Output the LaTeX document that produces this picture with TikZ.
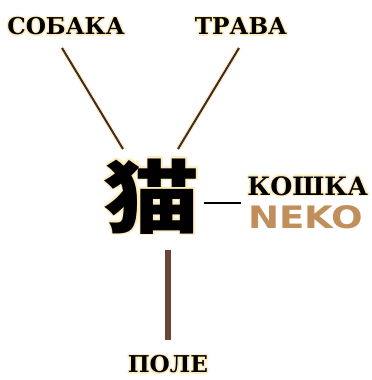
\documentclass[tikz,border=0pt]{standalone}
\usepackage{fontspec}
\usepackage[copies]{contour}
\setmainfont{DejaVu Serif}
\newfontfamily\cjk{Noto Sans CJK JP}[FakeStretch=1.2]
\newfontfamily\nekofont{DejaVu Sans}[FakeStretch=1.2]
\usepackage{xcolor}
\usepackage{tikz}
\definecolor{halo}{RGB}{255,236,190}
\definecolor{linebrown}{RGB}{66,42,36}
\definecolor{stembrown}{RGB}{107,68,56}
\definecolor{nekotan}{RGB}{192,143,91}
\contourlength{1.1pt}
\contournumber{8}
\tikzset{
  word/.style={inner sep=0pt, font=\fontsize{16.5}{16.5}\selectfont\bfseries},
  link/.style={line width=1.4pt, color=linebrown,
               preaction={draw=halo, line width=3pt}},
  stem/.style={line width=3.6pt, color=stembrown}
}

\begin{document}
\begin{tikzpicture}[x=0.025cm, y=-0.025cm]
  \useasboundingbox (0,0) rectangle (371,380);

  % Nodes
  \node[inner sep=0pt, font=\cjk\fontsize{57}{57}\selectfont\bfseries] (neko-kanji) at (152,197) {\contour{halo}{猫}};
  \node[word] (dog)    at (66,27)  {\contour{halo}{СОБАКА}};
  \node[word] (grass)  at (241,27) {\contour{halo}{ТРАВА}};
  \node[word, anchor=west, font=\fontsize{18}{18}\selectfont\bfseries] (cat) at (247,187) {\contour{halo}{КОШКА}};
  \node[inner sep=0pt, anchor=west, text=nekotan,
        font=\nekofont\fontsize{22}{22}\selectfont\bfseries] (neko) at (248,217) {NEKO};
  \node[word] (field)  at (168,365) {\contour{halo}{ПОЛЕ}};

  % Line ends
  \coordinate (dog-end)   at (62,48);
  \coordinate (dog-tip)   at (123,149);
  \coordinate (grass-end) at (239,48);
  \coordinate (grass-tip) at (178,149);
  \coordinate (cat-end)   at (241,203);
  \coordinate (field-top) at (168,250);
  \coordinate (field-end) at (168,340);

  % Connectors
  \draw[link] (dog-end) -- (dog-tip);
  \draw[link] (grass-end) -- (grass-tip);
  \draw[line width=1.1pt] (neko-kanji.east |- cat-end) ++(4,0) -- (cat-end);
  \draw[stem] (field-top) -- (field-end);

\end{tikzpicture}
\end{document}
